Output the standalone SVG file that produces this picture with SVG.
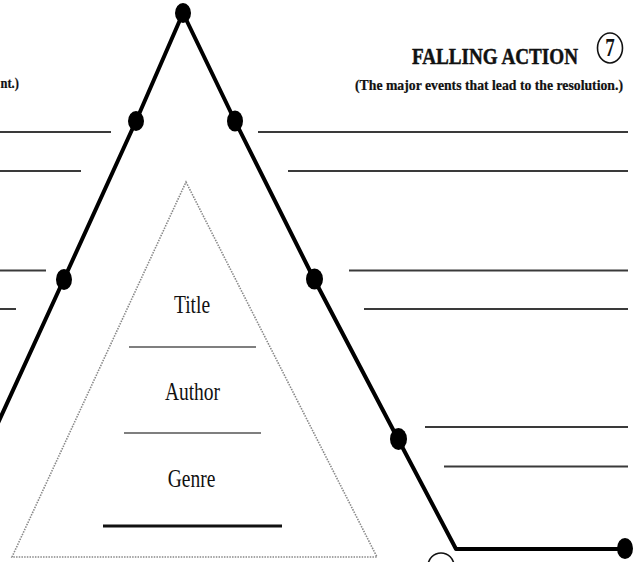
<svg xmlns="http://www.w3.org/2000/svg" width="636" height="562" viewBox="0 0 636 562">
<style>
.blank{stroke:#3a3a3a;stroke-width:2;fill:none}
.thin{stroke:#555;stroke-width:1.6;fill:none}
.arc{stroke:#000;stroke-width:4;fill:none;stroke-linejoin:round}
.dot{fill:#000}
.lbl{font-family:"Liberation Serif","Times New Roman",serif;font-size:19.5px;fill:#111;text-anchor:middle}
.hd{font-family:"Liberation Serif","Times New Roman",serif;font-weight:bold;fill:#111}
</style>
<rect width="636" height="562" fill="#fff"/>
<g id="connectors">
<polyline class="arc" points="-2,423 64,279 136,121 183,13 235,121 314,279 398,439 456,549 625,549"/>
</g>
<g id="inner-triangle">
<polygon points="186,182 377,557 12,557" fill="none" stroke="#888" stroke-width="1.6" stroke-dasharray="1.5,1.2"/>
</g>
<g id="dots">
<ellipse class="dot" cx="183" cy="13" rx="8" ry="10"/>
<ellipse class="dot" cx="136" cy="121" rx="8" ry="10"/>
<ellipse class="dot" cx="64" cy="279.5" rx="8" ry="10.5"/>
<ellipse class="dot" cx="235" cy="121" rx="8" ry="10.5"/>
<ellipse class="dot" cx="314.5" cy="279" rx="8.5" ry="10.5"/>
<ellipse class="dot" cx="398.5" cy="439" rx="8.5" ry="11"/>
<ellipse class="dot" cx="625" cy="548.5" rx="8" ry="10.5"/>
</g>
<g id="left-blanks">
<line class="blank" x1="0" y1="132" x2="111" y2="132"/>
<line class="blank" x1="0" y1="171" x2="81" y2="171"/>
<line class="blank" x1="0" y1="270.5" x2="46" y2="270.5"/>
<line class="blank" x1="0" y1="309" x2="16" y2="309"/>
</g>
<g id="right-blanks">
<line class="blank" x1="258" y1="132" x2="628" y2="132"/>
<line class="blank" x1="288" y1="171" x2="628" y2="171"/>
<line class="blank" x1="349" y1="270.5" x2="628" y2="270.5"/>
<line class="blank" x1="364" y1="309" x2="628" y2="309"/>
<line class="blank" x1="425" y1="427" x2="628" y2="427"/>
<line class="blank" x1="444" y1="466.5" x2="628" y2="466.5"/>
</g>
<g id="falling-action">
<text class="hd" transform="translate(495,64) scale(1,1.25)" font-size="18.5" text-anchor="middle" stroke="#111" stroke-width="0.4" textLength="166" lengthAdjust="spacingAndGlyphs">FALLING ACTION</text>
<ellipse cx="610" cy="48" rx="12.5" ry="15" fill="none" stroke="#111" stroke-width="1.6"/>
<text class="hd" transform="translate(610,56) scale(1,1.3)" font-size="19" font-weight="normal" text-anchor="middle">7</text>
<text class="hd" transform="translate(489,90) scale(1,1.2)" font-size="12.5" text-anchor="middle" stroke="#111" stroke-width="0.2" textLength="268" lengthAdjust="spacingAndGlyphs">(The major events that lead to the resolution.)</text>
</g>
<g id="left-caption">
<text class="hd" transform="translate(0.5,88) scale(1,1.2)" font-size="12.5" stroke="#111" stroke-width="0.2">nt.)</text>
</g>
<g id="title">
<text class="lbl" transform="translate(192,313) scale(1,1.3)">Title</text>
<line class="thin" x1="129" y1="347" x2="256" y2="347"/>
</g>
<g id="author">
<text class="lbl" transform="translate(192.5,399.5) scale(1,1.3)">Author</text>
<line class="thin" x1="124" y1="433" x2="261" y2="433"/>
</g>
<g id="genre">
<text class="lbl" transform="translate(191.5,487) scale(1,1.3)">Genre</text>
<line x1="103" y1="526" x2="282" y2="526" stroke="#111" stroke-width="3"/>
</g>
<g id="small-circle">
<circle cx="441" cy="566" r="13" fill="none" stroke="#111" stroke-width="1.6"/>
</g>
</svg>
